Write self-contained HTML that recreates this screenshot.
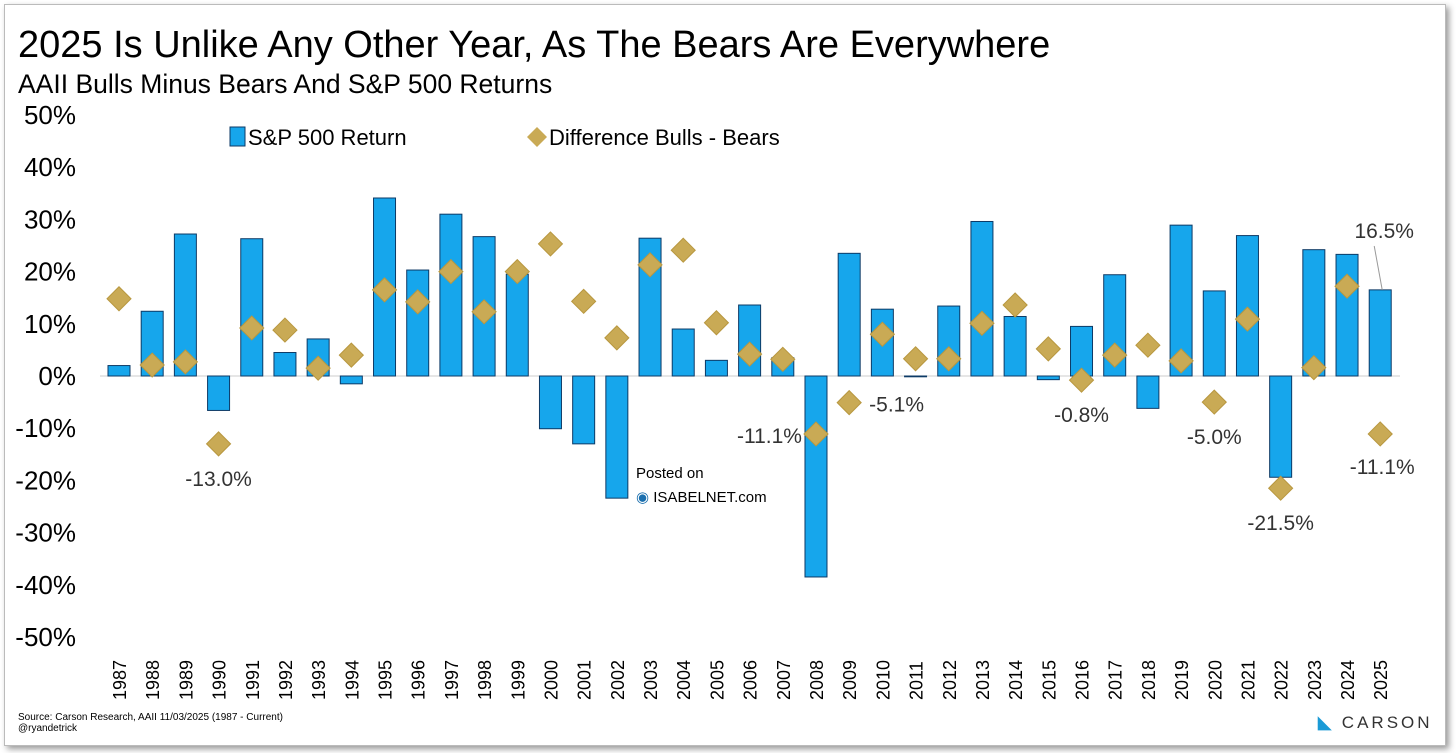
<!DOCTYPE html>
<html><head><meta charset="utf-8"><style>
body{margin:0;background:#fff;width:1456px;height:753px;overflow:hidden;font-family:"Liberation Sans",sans-serif}
#frame{position:absolute;left:4px;top:4px;width:1440px;height:740px;border:1px solid #bbb;box-shadow:3px 3px 6px #999;background:#fff}
.t{position:absolute;white-space:nowrap;color:#000}
</style></head><body>
<div id="frame"></div>
<div class="t" style="left:18px;top:24px;font-size:38px">2025 Is Unlike Any Other Year, As The Bears Are Everywhere</div>
<div class="t" style="left:18px;top:69px;font-size:26.5px">AAII Bulls Minus Bears And S&amp;P 500 Returns</div>
<svg id="c" width="1456" height="753" style="position:absolute;left:0;top:0"></svg>
<div class="t" style="left:18px;top:712px;font-size:10px;line-height:11px">Source: Carson Research, AAII 11/03/2025 (1987 - Current)<br>@ryandetrick</div>
<div class="t" style="left:1318px;top:713px;font-size:17px;letter-spacing:3px;color:#333"><span style="color:#1a9ad6;font-weight:bold">◣</span> CARSON</div>
<div class="t" style="left:636px;top:462px;font-size:15px;line-height:24px">Posted on<br><span style="color:#1a6fae">◉</span> ISABELNET.com</div>
<script>
const years=[];for(let y=1987;y<=2025;y++)years.push(String(y));
const spx=[2.0,12.4,27.2,-6.6,26.3,4.5,7.1,-1.5,34.1,20.3,31.0,26.7,19.5,-10.1,-13.0,-23.4,26.4,9.0,3.0,13.6,3.5,-38.5,23.5,12.8,0.0,13.4,29.6,11.4,-0.7,9.5,19.4,-6.2,28.9,16.3,26.9,-19.4,24.2,23.3,16.5];
const diff=[14.8,2.1,2.7,-13.0,9.2,8.8,1.5,4.0,16.5,14.2,20.0,12.3,20.0,25.3,14.3,7.3,21.3,24.1,10.2,4.2,3.2,-11.1,-5.1,8.0,3.3,3.3,10.1,13.6,5.2,-0.8,4.0,5.9,2.9,-5.0,10.9,-21.5,1.6,17.2,-11.1];
const ticks=[50,40,30,20,10,0,-10,-20,-30,-40,-50];
const labeled={"1990":"-13.0%","2008":"-11.1%","2009":"-5.1%","2016":"-0.8%","2020":"-5.0%","2022":"-21.5%","2025":"-11.1%"};
const svg=document.getElementById('c'),NS='http://www.w3.org/2000/svg';
const yS=v=>376-v*5.22, xS=i=>119+i*33.19;
function mk(t,a,txt){const e=document.createElementNS(NS,t);for(const k in a)e.setAttribute(k,a[k]);if(txt!=null)e.textContent=txt;svg.appendChild(e);return e;}
ticks.forEach(t=>{const e=mk('text',{x:76,y:yS(t)+9,'text-anchor':'end','font-size':26,fill:'#000'},t+'%');

});
const ax=mk('line',{x1:100,x2:1400,y1:yS(0),y2:yS(0),stroke:'#ccc','stroke-width':1});


years.forEach((yr,i)=>{
 const x=xS(i),v=spx[i];
 const b=mk('rect',{x:x-11,y:Math.min(yS(v),yS(0)),width:22,height:Math.max(Math.abs(yS(v)-yS(0)),0.8),fill:'#16a6ec',stroke:'#0d3a66','stroke-width':1});
 
 
 const cy=yS(diff[i]);
 const d=mk('polygon',{points:`${x},${cy-12} ${x+12},${cy} ${x},${cy+12} ${x-12},${cy}`,fill:'#c9aa55',stroke:'#b8973f','stroke-width':1});
 
 
 const l=mk('text',{x:0,y:0,'font-size':18,fill:'#000',transform:`translate(${x+7},${700}) rotate(-90)`},yr);
 
 
 if(labeled[yr]){
  let lx=x,ly=cy+42,anc='middle';
  if(yr==='2008'){lx=x-14;ly=cy+9;anc='end';}
  if(yr==='2009'){lx=x+20;ly=cy+9;anc='start';}
  if(yr==='2025'){lx=x+2;ly=cy+40;}
  const t=mk('text',{x:lx,y:ly,'text-anchor':anc,'font-size':21,fill:'#333'},labeled[yr]);
  
  
 }
});
const i25=years.length-1;
const t25=mk('text',{x:xS(i25)+4,y:238,'text-anchor':'middle','font-size':21,fill:'#333'},spx[i25].toFixed(1)+'%');


mk('line',{x1:xS(i25)-6,y1:246,x2:xS(i25)+2,y2:yS(spx[i25]),stroke:'#999'});
const lg1=mk('rect',{x:230,y:127,width:15,height:19,fill:'#16a6ec',stroke:'#0d3a66'});


const lt1=mk('text',{x:248,y:145,'font-size':22},'S&P 500 Return');


const lg2=mk('polygon',{points:'537,127 547,137 537,147 527,137',fill:'#c9aa55'});


const lt2=mk('text',{x:549,y:145,'font-size':22},'Difference Bulls - Bears');


</script>
</body></html>
